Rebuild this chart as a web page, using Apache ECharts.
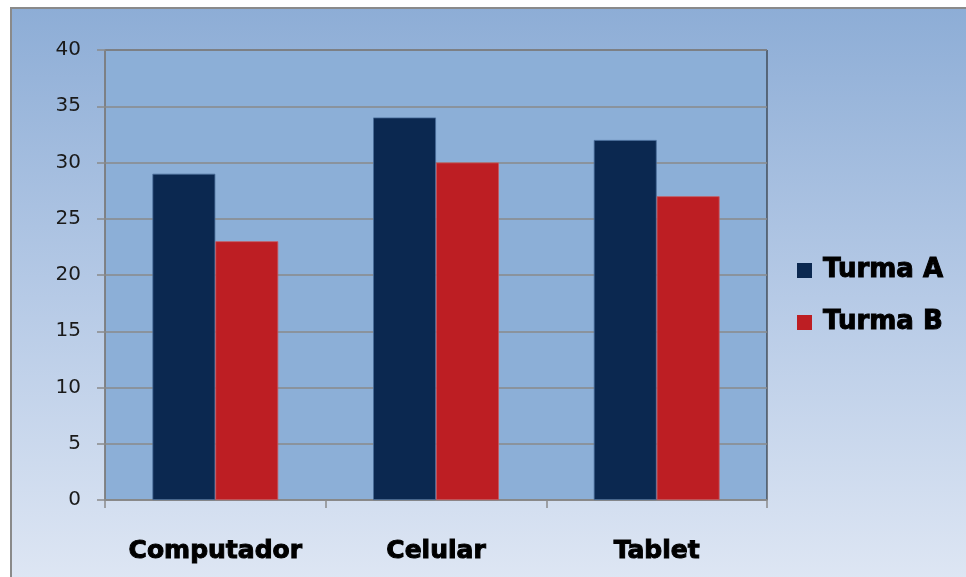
<!DOCTYPE html>
<html>
<head>
<meta charset="utf-8">
<script src="https://cdn.jsdelivr.net/npm/echarts@6/dist/echarts.min.js"></script>
<style>
  html, body { margin: 0; padding: 0; background: #fff; }
  #main { width: 966px; height: 577px; }
</style>
</head>
<body>
<div id="main"></div>
<script>
  // dados
  var categorias = ['Computador', 'Celular', 'Tablet'];
  var turmaA = [29, 34, 32];
  var turmaB = [23, 30, 27];

  var chart = echarts.init(document.getElementById('main'));

  var fonteNegrito = {
    fontFamily: 'DejaVu Sans',
    fontWeight: 'bold',
    fontSize: 25,
    color: '#000',
    textBorderColor: '#000',
    textBorderWidth: 1
  };

  var option = {
    animation: false,
    graphic: [{
      type: 'rect',
      z: -10,
      shape: { x: 11, y: 8, width: 970, height: 580 },
      style: {
        fill: new echarts.graphic.LinearGradient(0, 0, 0, 1, [
          { offset: 0, color: '#8dadd6' },
          { offset: 0.5, color: '#b6cae6' },
          { offset: 1, color: '#dfe7f4' }
        ]),
        stroke: '#8a8a8a',
        lineWidth: 2
      }
    }],
    grid: {
      left: 105, top: 50, width: 662, height: 450,
      show: true,
      backgroundColor: '#8cafd7',
      borderColor: '#1a1a1a',
      borderWidth: 1
    },
    legend: {
      orient: 'vertical',
      left: 792, top: 252,
      itemWidth: 15, itemHeight: 15,
      itemGap: 25,
      icon: 'rect',
      itemStyle: { borderWidth: 0 },
      textStyle: Object.assign({}, fonteNegrito, { fontSize: 26, padding: [0, 0, 0, 6] }),
      data: ['Turma A', 'Turma B']
    },
    xAxis: {
      type: 'category',
      data: categorias,
      axisLine: { lineStyle: { color: '#8a8a8a', width: 1.5 } },
      axisTick: { show: true, interval: 0, length: 8, lineStyle: { color: '#8a8a8a', width: 1.5 } },
      axisLabel: Object.assign({ margin: 39, interval: 0, hideOverlap: false }, fonteNegrito)
    },
    yAxis: {
      type: 'value',
      min: 0, max: 40, interval: 5,
      axisLine: { show: true, lineStyle: { color: '#8a8a8a', width: 1.5 } },
      axisTick: { show: true, length: 8, lineStyle: { color: '#8a8a8a', width: 1.5 } },
      axisLabel: {
        margin: 24,
        fontFamily: 'DejaVu Sans',
        fontSize: 20,
        color: '#1a1a1a'
      },
      splitLine: { lineStyle: { color: '#8a8a8a', width: 1.5 } }
    },
    series: [{
      name: 'Turma A',
      type: 'bar',
      data: turmaA,
      barGap: '0%',
      barCategoryGap: '43%',
      itemStyle: { color: '#0b2850', borderColor: '#4a6d99', borderWidth: 0.8 }
    }, {
      name: 'Turma B',
      type: 'bar',
      data: turmaB,
      itemStyle: { color: '#bd1e23', borderColor: '#c9575b', borderWidth: 0.8 }
    }]
  };

  chart.setOption(option);
</script>
</body>
</html>
